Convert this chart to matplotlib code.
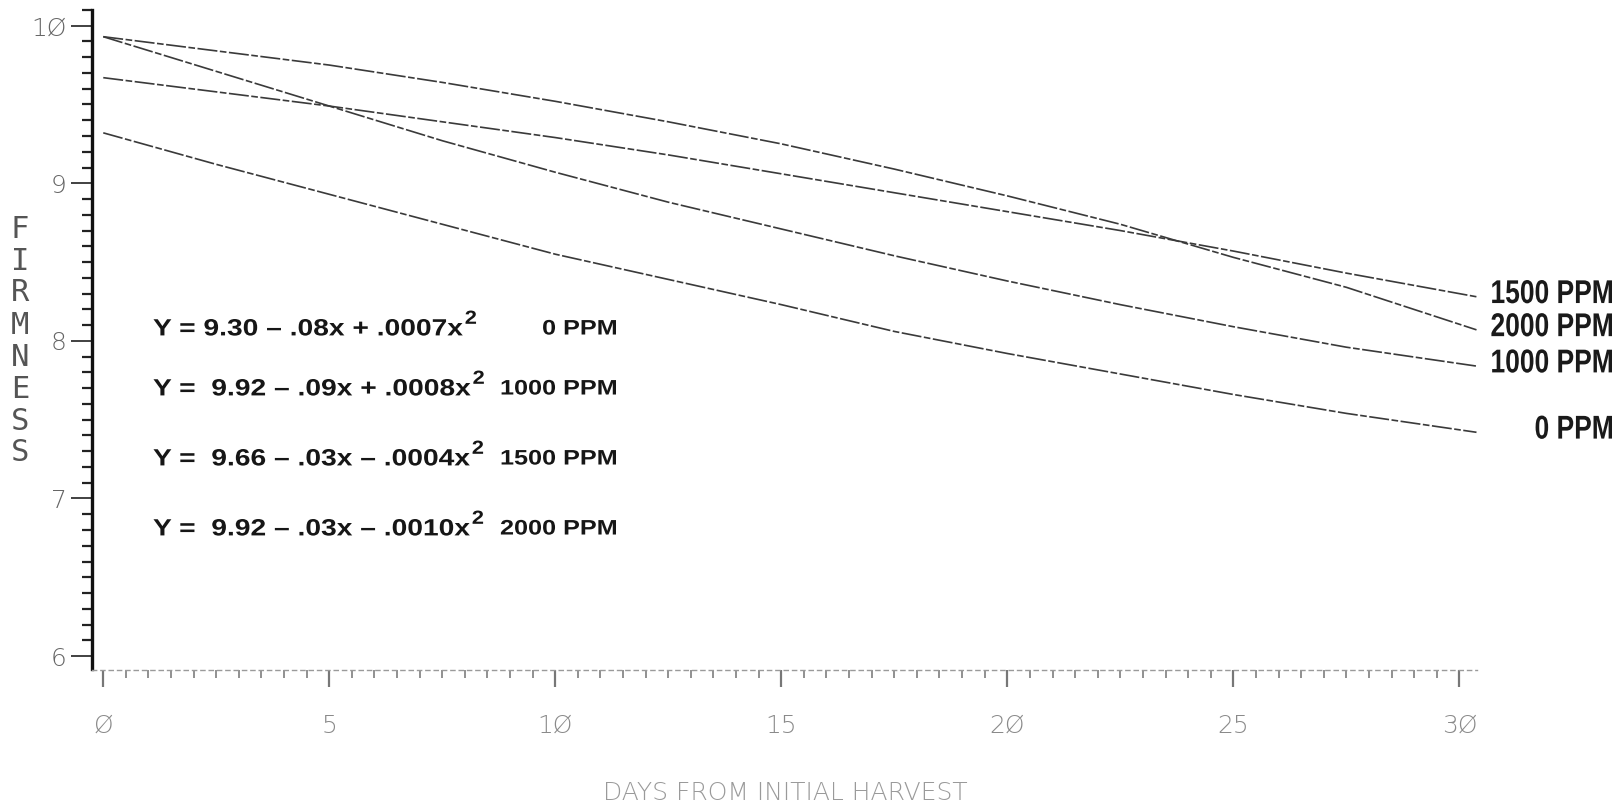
import matplotlib
matplotlib.use('Agg')
import matplotlib.pyplot as plt
from matplotlib.ticker import MultipleLocator, FixedLocator
from matplotlib.textpath import TextPath
from matplotlib.patches import PathPatch
from matplotlib.font_manager import FontProperties
from matplotlib.transforms import Affine2D

W, H = 1619, 802

# days from initial harvest and firmness
days = [0, 2.5, 5, 7.5, 10, 12.5, 15, 17.5, 20, 22.5, 25, 27.5, 30.38]
firm_0 = [9.32, 9.12, 8.93, 8.74, 8.55, 8.39, 8.23, 8.06, 7.92, 7.79, 7.66, 7.54, 7.42]
firm_1000 = [9.93, 9.71, 9.49, 9.27, 9.07, 8.88, 8.71, 8.54, 8.38, 8.23, 8.09, 7.96, 7.84]
firm_1500 = [9.67, 9.58, 9.49, 9.39, 9.29, 9.18, 9.06, 8.94, 8.82, 8.70, 8.57, 8.43, 8.28]
firm_2000 = [9.93, 9.84, 9.75, 9.64, 9.52, 9.39, 9.25, 9.09, 8.92, 8.74, 8.53, 8.34, 8.07]

series = {
    '0 PPM': firm_0,
    '1000 PPM': firm_1000,
    '1500 PPM': firm_1500,
    '2000 PPM': firm_2000,
}

equations = [
    ('Y = 9.30 \u2013 .08x + .0007x', '0 PPM'),
    ('Y =  9.92 \u2013 .09x + .0008x', '1000 PPM'),
    ('Y =  9.66 \u2013 .03x \u2013 .0004x', '1500 PPM'),
    ('Y =  9.92 \u2013 .03x \u2013 .0010x', '2000 PPM'),
]

y_ticks = [6, 7, 8, 9, 10]
y_ticklabels = ['6', '7', '8', '9', '1\u00d8']
x_ticks = [0, 5, 10, 15, 20, 25, 30]
x_ticklabels = ['\u00d8', '5', '1\u00d8', '15', '2\u00d8', '25', '3\u00d8']

fig = plt.figure(figsize=(W / 100, H / 100), dpi=100)
fig.patch.set_facecolor('white')

# axes box placed so the plotter grid lands where it should
left, right = 91.5, 1476.5
top, bottom = 9.9, 669.5
ax = fig.add_axes([left / W, 1 - bottom / H, (right - left) / W, (bottom - top) / H])
ax.set_xlim(-0.26, 30.38)
ax.set_ylim(5.915, 10.1)
ax.patch.set_alpha(0)

for name in ['top', 'right']:
    ax.spines[name].set_visible(False)
ax.spines['left'].set_linewidth(2.4)
ax.spines['left'].set_color('#111111')
ax.spines['bottom'].set_linewidth(1.0)
ax.spines['bottom'].set_color('#9a9a9a')
ax.spines['bottom'].set_linestyle((0, (3, 3)))

ax.yaxis.set_major_locator(FixedLocator(y_ticks))
ax.yaxis.set_minor_locator(MultipleLocator(0.1))
ax.set_yticklabels(y_ticklabels)
ax.tick_params(axis='y', which='major', direction='out', length=15, width=1.3,
               color='#333333', pad=3, labelsize=18, labelcolor='#666666')
ax.tick_params(axis='y', which='minor', direction='out', length=7, width=1.6,
               color='#222222')

ax.xaxis.set_major_locator(FixedLocator(x_ticks))
ax.xaxis.set_minor_locator(MultipleLocator(0.5))
ax.set_xticklabels(x_ticklabels)
ax.tick_params(axis='x', which='major', direction='out', length=12, width=1.6,
               color='#777777', pad=20, labelsize=18, labelcolor='#8a8a8a')
ax.tick_params(axis='x', which='minor', direction='out', length=6, width=1.3,
               color='#888888')
for lab in ax.get_xticklabels() + ax.get_yticklabels():
    lab.set_fontweight('light')

# the four fitted curves
for name, vals in series.items():
    ax.plot(days, vals, color='#3a3a3a', linewidth=1.2,
            linestyle=(0, (12, 1.5, 4, 1.5)), solid_capstyle='round')

bold_font = FontProperties(family='Liberation Sans', weight='bold')


def path_text(s, x, y_mid, size, sx=1.0, ha='left', color='#161616'):
    """Bold text as an outline, stretched sideways by sx.
    x, y_mid are pixels from the left / top; returns right edge in pixels."""
    tp = TextPath((0, 0), s, size=size, prop=bold_font)
    ext = tp.get_extents()
    base = H - y_mid - 0.716 * size / 2
    x0 = x - ext.x1 * sx if ha == 'right' else x
    tr = Affine2D().scale(sx, 1.0).translate(x0, base)
    fig.add_artist(PathPatch(tp, transform=tr, facecolor=color,
                             edgecolor='none'))
    return x0 + ext.x1 * sx


# narrow bold end labels beside each curve
for name, vals in series.items():
    y_mid = H - ax.transData.transform((0, vals[-1] + 0.035))[1]
    path_text(name, 1612, y_mid, 33, sx=0.8, ha='right', color='#1a1a1a')

# regression equations, wide bold lettering
row_px = [327, 387, 457, 527]
for (body, ppm), ypx in zip(equations, row_px):
    x_end = path_text(body, 153, ypx, 23.5, sx=1.2)
    path_text('2', x_end + 2, ypx - 10, 19, sx=1.15)
    path_text(ppm, 616, ypx, 21, sx=1.2, ha='right')

# stacked y-axis title
for i, ch in enumerate('FIRMNESS'):
    fig.text(20 / W, 1 - (229 + 32 * i) / H, ch, ha='center', va='center',
             fontsize=22, color='#555555', family='DejaVu Sans Mono')

fig.text(785 / W, 1 - 793 / H, 'DAYS FROM INITIAL HARVEST', ha='center',
         va='center', fontsize=18, color='#9a9a9a', family='DejaVu Sans',
         fontweight='light')

fig.savefig('out.png', dpi=100, facecolor='white')
